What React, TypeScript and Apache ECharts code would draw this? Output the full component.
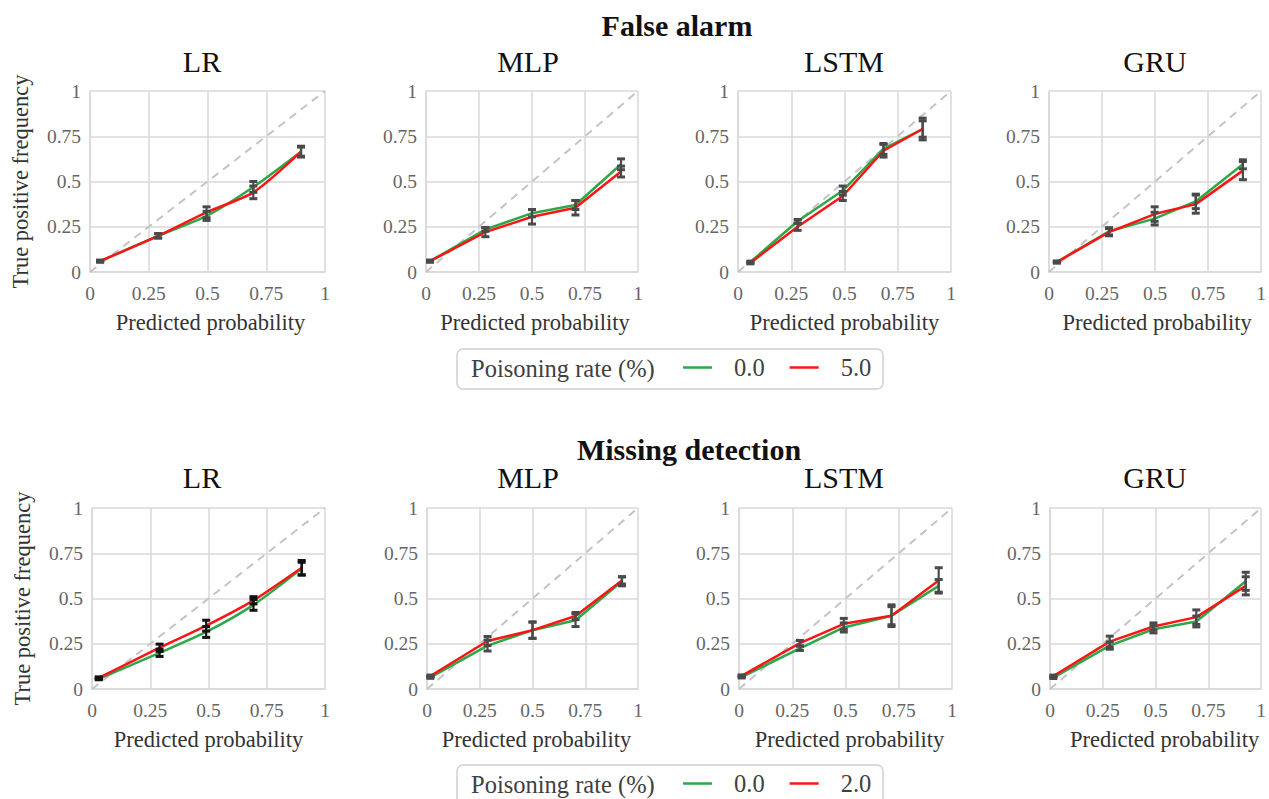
import React, { useEffect, useRef } from 'react';
import * as echarts from 'echarts';

const FONT = "'Liberation Serif', 'Times New Roman', serif";
const TICK_INTERVAL = 0.25;
const MODELS = ['LR', 'MLP', 'LSTM', 'GRU'];
const SECTION_TITLES = ['False alarm', 'Missing detection'];
const LEGEND_TITLE = 'Poisoning rate (%)';
const RATES_TOP = ['0.0', '5.0'];
const RATES_BOTTOM = ['0.0', '2.0'];
const X_NAME = 'Predicted probability';
const Y_NAME = 'True positive frequency';

// ---- False alarm ----
const faLR_x = [0.043, 0.29, 0.496, 0.695, 0.898];
const faLR_clean = [0.06, 0.2, 0.31, 0.47, 0.665];
const faLR_cleanErr = [0.005, 0.012, 0.025, 0.03, 0.03];
const faLR_pois = [0.06, 0.2, 0.33, 0.44, 0.665];
const faLR_poisErr = [0.005, 0.012, 0.03, 0.035, 0.025];

const faMLP_x = [0.019, 0.28, 0.5, 0.705, 0.92];
const faMLP_clean = [0.06, 0.235, 0.325, 0.37, 0.595];
const faMLP_cleanErr = [0.005, 0.01, 0.02, 0.025, 0.03];
const faMLP_pois = [0.06, 0.22, 0.305, 0.355, 0.555];
const faMLP_poisErr = [0.005, 0.025, 0.04, 0.04, 0.03];

const faLSTM_x = [0.058, 0.28, 0.492, 0.683, 0.867];
const faLSTM_clean = [0.055, 0.28, 0.45, 0.68, 0.79];
const faLSTM_cleanErr = [0.005, 0.01, 0.025, 0.03, 0.06];
const faLSTM_pois = [0.05, 0.25, 0.42, 0.67, 0.79];
const faLSTM_poisErr = [0.005, 0.02, 0.025, 0.035, 0.045];

const faGRU_x = [0.037, 0.283, 0.498, 0.692, 0.914];
const faGRU_clean = [0.055, 0.225, 0.295, 0.39, 0.595];
const faGRU_cleanErr = [0.005, 0.02, 0.035, 0.04, 0.025];
const faGRU_pois = [0.055, 0.22, 0.32, 0.375, 0.56];
const faGRU_poisErr = [0.005, 0.02, 0.04, 0.05, 0.05];

// ---- Missing detection ----
const mdLR_x = [0.029, 0.29, 0.49, 0.693, 0.9];
const mdLR_clean = [0.056, 0.2, 0.315, 0.465, 0.665];
const mdLR_cleanErr = [0.005, 0.02, 0.03, 0.03, 0.035];
const mdLR_pois = [0.062, 0.228, 0.35, 0.49, 0.67];
const mdLR_poisErr = [0.005, 0.02, 0.03, 0.02, 0.04];

const mdMLP_x = [0.016, 0.287, 0.5, 0.704, 0.924];
const mdMLP_clean = [0.064, 0.24, 0.325, 0.38, 0.595];
const mdMLP_cleanErr = [0.005, 0.03, 0.045, 0.035, 0.025];
const mdMLP_pois = [0.072, 0.265, 0.325, 0.403, 0.6];
const mdMLP_poisErr = [0.005, 0.025, 0.045, 0.02, 0.02];

const mdLSTM_x = [0.0125, 0.286, 0.492, 0.716, 0.9375];
const mdLSTM_clean = [0.066, 0.225, 0.34, 0.405, 0.57];
const mdLSTM_cleanErr = [0.005, 0.012, 0.025, 0.05, 0.035];
const mdLSTM_pois = [0.073, 0.253, 0.36, 0.405, 0.6];
const mdLSTM_poisErr = [0.005, 0.015, 0.03, 0.06, 0.07];

const mdGRU_x = [0.016, 0.283, 0.49, 0.693, 0.927];
const mdGRU_clean = [0.063, 0.24, 0.33, 0.373, 0.595];
const mdGRU_cleanErr = [0.005, 0.02, 0.02, 0.03, 0.05];
const mdGRU_pois = [0.072, 0.262, 0.345, 0.397, 0.57];
const mdGRU_poisErr = [0.005, 0.03, 0.02, 0.04, 0.05];

const GREEN = '#2ea64a';
const RED = '#ff1414';
const GRID_COLOR = '#d9d9d9';

type Panel = {
  x: number[]; clean: number[]; cleanErr: number[]; pois: number[]; poisErr: number[];
  rates: string[]; barColor: string; smooth: boolean;
};

const PANELS: Panel[] = [
  { x: faLR_x, clean: faLR_clean, cleanErr: faLR_cleanErr, pois: faLR_pois, poisErr: faLR_poisErr, rates: RATES_TOP, barColor: '#4a4a4a', smooth: true },
  { x: faMLP_x, clean: faMLP_clean, cleanErr: faMLP_cleanErr, pois: faMLP_pois, poisErr: faMLP_poisErr, rates: RATES_TOP, barColor: '#4a4a4a', smooth: false },
  { x: faLSTM_x, clean: faLSTM_clean, cleanErr: faLSTM_cleanErr, pois: faLSTM_pois, poisErr: faLSTM_poisErr, rates: RATES_TOP, barColor: '#4a4a4a', smooth: false },
  { x: faGRU_x, clean: faGRU_clean, cleanErr: faGRU_cleanErr, pois: faGRU_pois, poisErr: faGRU_poisErr, rates: RATES_TOP, barColor: '#4a4a4a', smooth: false },
  { x: mdLR_x, clean: mdLR_clean, cleanErr: mdLR_cleanErr, pois: mdLR_pois, poisErr: mdLR_poisErr, rates: RATES_BOTTOM, barColor: '#111111', smooth: true },
  { x: mdMLP_x, clean: mdMLP_clean, cleanErr: mdMLP_cleanErr, pois: mdMLP_pois, poisErr: mdMLP_poisErr, rates: RATES_BOTTOM, barColor: '#4a4a4a', smooth: false },
  { x: mdLSTM_x, clean: mdLSTM_clean, cleanErr: mdLSTM_cleanErr, pois: mdLSTM_pois, poisErr: mdLSTM_poisErr, rates: RATES_BOTTOM, barColor: '#4a4a4a', smooth: false },
  { x: mdGRU_x, clean: mdGRU_clean, cleanErr: mdGRU_cleanErr, pois: mdGRU_pois, poisErr: mdGRU_poisErr, rates: RATES_BOTTOM, barColor: '#4a4a4a', smooth: false },
];

const GRIDS = [
  { left: 90, top: 91, width: 235, height: 181 },
  { left: 426, top: 91, width: 212, height: 181 },
  { left: 738, top: 91, width: 213, height: 181 },
  { left: 1049, top: 91, width: 214, height: 181 },
  { left: 92, top: 508, width: 233, height: 181 },
  { left: 427, top: 508, width: 211, height: 181 },
  { left: 739, top: 508, width: 213, height: 181 },
  { left: 1050, top: 508, width: 214, height: 181 },
];
// extra left padding of the x-axis name (shifts it right by half)
const NAME_SHIFT = [6, 6, 0, 4, 0, 8, 8, 18];

const TITLE_X = [202, 528, 844, 1155];

function errorBarSeries(gi: number, xs: number[], ys: number[], errs: number[], color: string) {
  return {
    type: 'custom',
    name: 'err',
    xAxisIndex: gi,
    yAxisIndex: gi,
    z: 5,
    silent: true,
    encode: { x: 0, y: [1, 2] },
    data: xs.map((x, i) => [x, ys[i] - errs[i], ys[i] + errs[i]]),
    renderItem: (_params: any, api: any) => {
      const x = api.value(0);
      const lo = api.coord([x, api.value(1)]);
      const hi = api.coord([x, api.value(2)]);
      const hw = 4;
      return {
        type: 'group',
        children: [
          { type: 'line', shape: { x1: lo[0], y1: lo[1], x2: hi[0], y2: hi[1] }, style: { stroke: color, lineWidth: 2.2 } },
          { type: 'line', shape: { x1: lo[0] - hw, y1: lo[1], x2: lo[0] + hw, y2: lo[1] }, style: { stroke: color, lineWidth: 3 } },
          { type: 'line', shape: { x1: hi[0] - hw, y1: hi[1], x2: hi[0] + hw, y2: hi[1] }, style: { stroke: color, lineWidth: 3 } },
        ],
      };
    },
  };
}

export default function App() {
  const ref = useRef<HTMLDivElement>(null);
  useEffect(() => {
    if (!ref.current) return;
    const chart = echarts.init(ref.current, undefined, { renderer: 'svg' });

    const grid = GRIDS.map((g) => ({ ...g, containLabel: false }));
    const xAxis = GRIDS.map((_g, i) => ({
      type: 'value',
      gridIndex: i,
      min: 0,
      max: 1,
      interval: TICK_INTERVAL,
      name: X_NAME,
      nameLocation: 'middle',
      nameGap: 39,
      nameTextStyle: { fontFamily: FONT, fontSize: 22.5, color: '#333333', padding: [0, 0, 0, NAME_SHIFT[i]] },
      axisLine: { show: true, lineStyle: { color: GRID_COLOR, width: 1.5 } },
      axisTick: { show: false },
      axisLabel: { fontFamily: FONT, fontSize: 19.5, color: '#666666', margin: 11 },
      splitLine: { show: true, lineStyle: { color: GRID_COLOR, width: 1.5 } },
    }));
    const yAxis = GRIDS.map((_g, i) => ({
      type: 'value',
      gridIndex: i,
      min: 0,
      max: 1,
      interval: TICK_INTERVAL,
      name: i % 4 === 0 ? Y_NAME : '',
      nameLocation: 'middle',
      nameGap: 58,
      nameTextStyle: { fontFamily: FONT, fontSize: 22.5, color: '#333333' },
      axisLine: { show: true, lineStyle: { color: GRID_COLOR, width: 1.5 } },
      axisTick: { show: false },
      axisLabel: { fontFamily: FONT, fontSize: 19.5, color: '#666666', margin: 9 },
      splitLine: { show: true, lineStyle: { color: GRID_COLOR, width: 1.5 } },
    }));

    const series: any[] = [];
    PANELS.forEach((p, i) => {
      series.push({
        type: 'line',
        name: 'diag',
        xAxisIndex: i,
        yAxisIndex: i,
        data: [[0, 0], [1, 1]],
        symbol: 'none',
        silent: true,
        z: 1,
        lineStyle: { color: '#c4c4c4', width: 2, type: [8, 6] },
      });
      series.push({
        type: 'line',
        name: p.rates[0],
        xAxisIndex: i,
        yAxisIndex: i,
        data: p.x.map((x, k) => [x, p.clean[k]]),
        symbol: 'none',
        smooth: p.smooth ? 0.25 : false,
        z: 2,
        color: GREEN,
        lineStyle: { color: GREEN, width: 2.5 },
      });
      series.push({
        type: 'line',
        name: p.rates[1],
        xAxisIndex: i,
        yAxisIndex: i,
        data: p.x.map((x, k) => [x, p.pois[k]]),
        symbol: 'none',
        smooth: p.smooth ? 0.25 : false,
        z: 3,
        color: RED,
        lineStyle: { color: RED, width: 2.5 },
      });
      series.push(errorBarSeries(i, p.x, p.clean, p.cleanErr, p.barColor));
      series.push(errorBarSeries(i, p.x, p.pois, p.poisErr, p.barColor));
    });

    const titleStyle = (text: string, bold: boolean) => ({
      text,
      fontFamily: FONT,
      fontSize: 30,
      fontWeight: bold ? 'bold' : 'normal',
      fill: '#111111',
      align: 'center',
      verticalAlign: 'middle',
    });
    const graphic: any[] = [
      { type: 'text', x: 677, y: 25, style: titleStyle(SECTION_TITLES[0], true) },
      { type: 'text', x: 689, y: 449, style: titleStyle(SECTION_TITLES[1], true) },
    ];
    MODELS.forEach((m, k) => {
      graphic.push({ type: 'text', x: TITLE_X[k], y: 61, style: titleStyle(m, false) });
      graphic.push({ type: 'text', x: TITLE_X[k], y: 477, style: titleStyle(m, false) });
    });
    [349, 765].forEach((top) => {
      graphic.push({ type: 'rect', z: -1, shape: { x: 457, y: top, width: 426, height: 40, r: 6 }, style: { fill: '#ffffff', stroke: '#d0d0d0', lineWidth: 1.5 } });
      graphic.push({
        type: 'text', x: 471, y: top + 19,
        style: { text: LEGEND_TITLE, fontFamily: FONT, fontSize: 24.5, fill: '#404040', align: 'left', verticalAlign: 'middle' },
      });
    });

    const legendCommon = {
      left: 683,
      orient: 'horizontal',
      icon: 'rect',
      itemWidth: 29,
      itemHeight: 2.5,
      itemGap: 25,
      selectedMode: false,
      padding: 0,
      textStyle: { fontFamily: FONT, fontSize: 24.5, color: '#404040', padding: [0, 0, 0, 17] },
    };

    chart.setOption({
      animation: false,
      backgroundColor: '#ffffff',
      grid,
      xAxis,
      yAxis,
      series,
      graphic,
      legend: [
        { ...legendCommon, top: 355, data: RATES_TOP },
        { ...legendCommon, top: 771, data: RATES_BOTTOM },
      ],
    });
    return () => chart.dispose();
  }, []);
  return <div ref={ref} style={{ position: 'fixed', left: 0, top: 0, width: 1269, height: 799 }} />;
}
